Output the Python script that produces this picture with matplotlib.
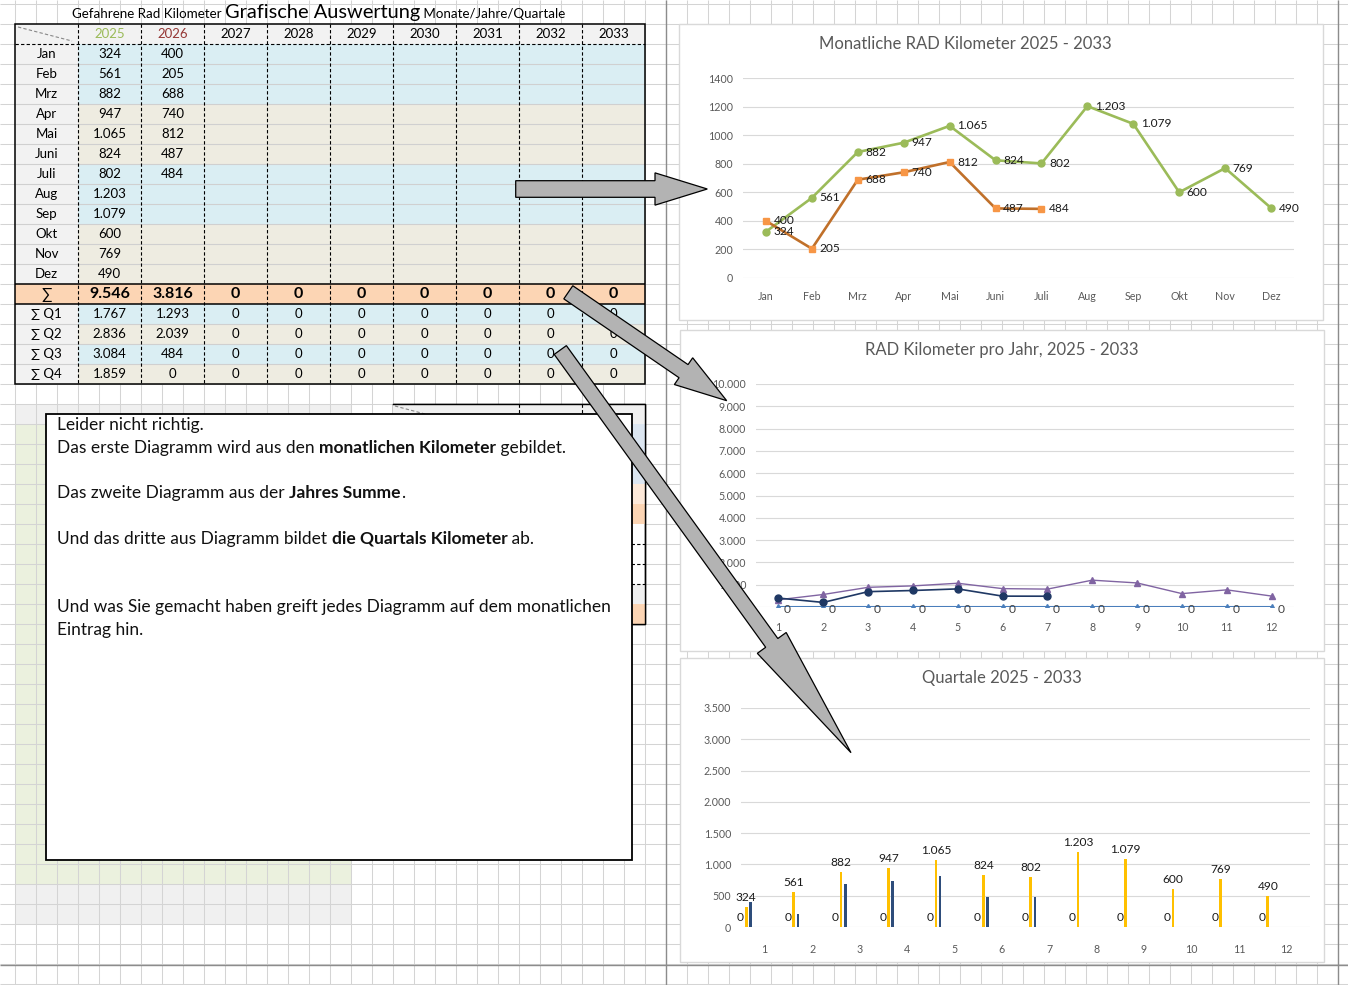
import matplotlib
matplotlib.use("Agg")
import matplotlib.pyplot as plt
import numpy as np
from matplotlib.patches import Rectangle, FancyArrow

plt.rcParams['font.family'] = ['Lato', 'DejaVu Sans']

# ---- data ----
months = ['Jan', 'Feb', 'Mrz', 'Apr', 'Mai', 'Juni', 'Juli', 'Aug', 'Sep', 'Okt', 'Nov', 'Dez']
month_numbers = [1, 2, 3, 4, 5, 6, 7, 8, 9, 10, 11, 12]
years = [2025, 2026, 2027, 2028, 2029, 2030, 2031, 2032, 2033]
km_2025 = [324, 561, 882, 947, 1065, 824, 802, 1203, 1079, 600, 769, 490]
km_2026 = [400, 205, 688, 740, 812, 487, 484]
zero_row = [0, 0, 0, 0, 0, 0, 0, 0, 0, 0, 0, 0]
year_sum = [9546, 3816, 0, 0, 0, 0, 0, 0, 0]
q1_sum = [1767, 1293, 0, 0, 0, 0, 0, 0, 0]
q2_sum = [2836, 2039, 0, 0, 0, 0, 0, 0, 0]
q3_sum = [3084, 484, 0, 0, 0, 0, 0, 0, 0]
q4_sum = [1859, 0, 0, 0, 0, 0, 0, 0, 0]
quarter_names = ['∑ Q1', '∑ Q2', '∑ Q3', '∑ Q4']


def de(v):
    # german thousands separator
    return f"{v:,}".replace(",", ".")


W, H = 1348, 985
fig = plt.figure(figsize=(W / 100, H / 100), dpi=100)
bg = fig.add_axes([0, 0, 1, 1])
bg.set_xlim(0, W)
bg.set_ylim(H, 0)
bg.axis('off')
r = fig.canvas.get_renderer()

# ---- sheet background ----
bg.add_patch(Rectangle((15, 404), 337, 20, fc='#F0F0F0', lw=0, zorder=0.5))
bg.add_patch(Rectangle((15, 424), 337, 460, fc='#EBF1DE', lw=0, zorder=0.5))
bg.add_patch(Rectangle((15, 884), 337, 40, fc='#F0F0F0', lw=0, zorder=0.5))
bg.vlines(np.arange(15, W, 21), 0, H, color='#D4D4D4', lw=0.75, zorder=1)
bg.hlines(np.arange(4.3, H, 20), 0, W, color='#D4D4D4', lw=0.75, zorder=1)
bg.vlines([666, 1338], 0, H, color='#8C8C8C', lw=1, zorder=1.2)
bg.hlines([965], 0, W, color='#8C8C8C', lw=1, zorder=1.2)

# second table hidden behind the note
bg.add_patch(Rectangle((393, 404), 252, 220, fc='white', ec='black', lw=1, zorder=2))
bg.add_patch(Rectangle((393, 404), 252, 20, fc='#F0F0F0', lw=0, zorder=2.1))
for y0, y1, c in [(424, 484, '#DCE6F1'), (484, 504, '#FDE9D9'), (504, 524, '#FCD5B4'),
                  (584, 604, '#F0F0F0'), (604, 624, '#FCD5B4')]:
    bg.add_patch(Rectangle((393, y0), 252, y1 - y0, fc=c, lw=0, zorder=2.1))
bg.hlines([544, 564, 584], 620, 645, color='black', lw=0.8, linestyles=(0, (3, 2)), zorder=2.2)
bg.vlines([519, 582], 404, 424, color='black', lw=0.8, linestyles=(0, (3, 2)), zorder=2.2)
bg.plot([395, 425], [406, 414], color='#888888', lw=0.8, ls=(0, (3, 2)), zorder=2.2)
bg.plot([393, 645, 645, 393], [404, 404, 624, 624], color='black', lw=1, zorder=2.3)

# ---- main table ----
col_edges = [15 + 63 * k for k in range(11)]
row_edges = [24 + 20 * k for k in range(19)]
blue, beige, grey, peach = '#DAEEF3', '#EEECE1', '#F2F2F2', '#FCD5B4'
fs_tab = 9.5


def cell(ci, ri, color):
    x0, x1 = col_edges[ci], col_edges[ci + 1]
    y0, y1 = row_edges[ri], row_edges[ri + 1]
    bg.add_patch(Rectangle((x0, y0), x1 - x0, y1 - y0, fc=color, lw=0, zorder=2))


def ctext(ci, ri, s, **kw):
    x = (col_edges[ci] + col_edges[ci + 1]) / 2
    y = (row_edges[ri] + row_edges[ri + 1]) / 2 + 0.5
    bg.text(x, y, s, ha='center', va='center', zorder=4, **kw)


for ci in range(10):
    cell(ci, 0, grey)
header_colors = ['#9BBB59', '#953735'] + ['black'] * 7
for j, yr in enumerate(years):
    ctext(j + 1, 0, str(yr), fontsize=fs_tab, color=header_colors[j])
bg.plot([18, 72], [27, 41], color='#888888', lw=0.8, ls=(0, (3, 2)), zorder=3)

for i, m in enumerate(months):
    ri = i + 1
    cell(0, ri, grey)
    rowc = blue if (i // 3) % 2 == 0 else beige
    for ci in range(1, 10):
        cell(ci, ri, rowc)
    ctext(0, ri, m, fontsize=fs_tab)
    ctext(1, ri, de(km_2025[i]), fontsize=fs_tab)
    if i < len(km_2026):
        ctext(2, ri, de(km_2026[i]), fontsize=fs_tab)

for ci in range(10):
    cell(ci, 13, peach)
ctext(0, 13, '∑', fontsize=11)
for j, v in enumerate(year_sum):
    ctext(j + 1, 13, de(v), fontsize=11.5, fontweight='bold')

for qi, qvals in enumerate([q1_sum, q2_sum, q3_sum, q4_sum]):
    ri = 14 + qi
    cell(0, ri, grey)
    for ci in range(1, 10):
        cell(ci, ri, blue if qi % 2 == 0 else beige)
    ctext(0, ri, quarter_names[qi], fontsize=fs_tab)
    for j, v in enumerate(qvals):
        ctext(j + 1, ri, de(v), fontsize=fs_tab)

bg.hlines(row_edges[2:13] + row_edges[15:18], 15, 645, color='#D0D0D0', lw=0.8, zorder=2.5)
bg.vlines(col_edges[1:10], 24, 384, color='black', lw=0.8, linestyles=(0, (3, 2)), zorder=3)
bg.hlines([44], 15, 645, color='black', lw=0.8, linestyles=(0, (3, 2)), zorder=3)
bg.hlines([284, 304], 15, 645, color='black', lw=1.1, zorder=3.1)
bg.add_patch(Rectangle((15, 24), 630, 360, fc='none', ec='black', lw=1.1, zorder=3.2))


def width_px(s, **kw):
    t = bg.text(0, 0, '|' + s + '|', **kw)
    w1 = t.get_window_extent(r).width
    t.remove()
    t = bg.text(0, 0, '||', **kw)
    w2 = t.get_window_extent(r).width
    t.remove()
    return w1 - w2


def rich(x, y, pieces, center=False):
    if center:
        x -= sum(width_px(s, **kw) for s, kw in pieces) / 2
    for s, kw in pieces:
        bg.text(x, y, s, ha='left', va='baseline', zorder=5, **kw)
        x += width_px(s, **kw)


rich(319, 18, [('Gefahrene Rad Kilometer ', dict(fontsize=9.6)),
               ('Grafische Auswertung', dict(fontsize=14.4)),
               (' Monate/Jahre/Quartale', dict(fontsize=9.6))], center=True)

# ---- note box ----
bg.add_patch(Rectangle((46, 414), 586, 446, fc='white', ec='black', lw=1.3, zorder=4))
n = dict(fontsize=12.5, color='#111111')
b = dict(fontsize=12.5, color='#111111', fontweight='bold')
rich(57, 430, [('Leider nicht richtig.', n)])
rich(57, 453, [('Das erste Diagramm wird aus den ', n), ('monatlichen Kilometer', b), (' gebildet.', n)])
rich(57, 498, [('Das zweite Diagramm aus der ', n), ('Jahres Summe', b), ('.', n)])
rich(57, 544, [('Und das dritte aus Diagramm bildet ', n), ('die Quartals Kilometer', b), (' ab.', n)])
rich(57, 612, [('Und was Sie gemacht haben greift jedes Diagramm auf dem monatlichen', n)])
rich(57, 635, [('Eintrag hin.', n)])

# ---- chart frames ----
for x0, y0, x1, y1 in [(679, 24, 1323, 320), (680, 330, 1324, 651), (680, 658, 1324, 962)]:
    bg.add_patch(Rectangle((x0, y0), x1 - x0, y1 - y0, fc='white', ec='#D9D9D9', lw=1, zorder=2))


def chart_axes(x0, y0, x1, y1, xpad=9.5):
    ax = fig.add_axes([x0 / W, 1 - y1 / H, (x1 - x0) / W, (y1 - y0) / H])
    ax.patch.set_visible(False)
    for s in ax.spines.values():
        s.set_visible(False)
    ax.tick_params(length=0, labelsize=7.7, labelcolor='#595959')
    ax.tick_params(axis='y', pad=7)
    ax.tick_params(axis='x', pad=xpad)
    ax.yaxis.grid(True, color='#D9D9D9', lw=0.8)
    ax.set_axisbelow(True)
    ax.set_xlim(-0.5, 11.5)
    return ax


def title(x, y, s):
    fig.text(x / W, 1 - y / H, s, ha='center', va='center', fontsize=12, color='#595959')


x = np.arange(len(km_2025))
x26 = np.arange(len(km_2026))
lab = dict(fontsize=8.6, color='#1A1A1A')

# chart 1: monthly
ax1 = chart_axes(743, 78, 1294, 278)
ax1.plot(x, km_2025, color='#9BBB59', lw=1.9, marker='o', ms=5, zorder=3)
ax1.plot(x26, km_2026, color='#C0702A', lw=1.9, marker='s', ms=5,
         mfc='#F79646', mec='#F79646', zorder=3)
for i, v in enumerate(km_2025):
    ax1.annotate(de(v), (i, v), xytext=(5.5, 0), textcoords='offset points', va='center', zorder=4, **lab)
for i, v in enumerate(km_2026):
    ax1.annotate(de(v), (i, v), xytext=(5.5, 0), textcoords='offset points', va='center', zorder=4, **lab)
ax1.set_ylim(0, 1400)
ax1.set_yticks(range(0, 1401, 200))
ax1.set_xticks(x)
ax1.set_xticklabels(months)
title(965, 44, 'Monatliche RAD Kilometer 2025 - 2033')

# chart 2: per year
ax2 = chart_axes(756, 384, 1294, 607, xpad=10.5)
ax2.plot(x, zero_row, color='#4A7EBB', lw=1.5, marker='^', ms=4.5, zorder=3)
ax2.plot(x, km_2025, color='#8064A2', lw=1, marker='^', ms=5, zorder=3)
ax2.plot(x26, km_2026, color='#1F3864', lw=1.2, marker='o', ms=5, zorder=3)
for i, v in enumerate(zero_row):
    ax2.annotate(de(v), (i, v), xytext=(4, -2), textcoords='offset points', va='center',
                 fontsize=8.6, color='#404040', zorder=4)
ax2.set_ylim(0, 10000)
ax2.set_yticks(range(0, 10001, 1000))
ax2.set_yticklabels([de(v) for v in range(0, 10001, 1000)])
ax2.set_xticks(x)
ax2.set_xticklabels([str(m) for m in month_numbers])
title(1002, 350, 'RAD Kilometer pro Jahr, 2025 - 2033')

# chart 3: quarters
ax3 = chart_axes(741, 708, 1310, 927, xpad=12)
ax3.bar(x - 0.51, zero_row, width=0.05, color='#4472C4')
ax3.bar(x - 0.39, km_2025, width=0.055, color='#FFC000', zorder=3)
ax3.bar(x26 - 0.30, km_2026, width=0.055, color='#2E4D7B', zorder=3)
for i, v in enumerate(zero_row):
    ax3.annotate(de(v), (i - 0.51, v), xytext=(0, 3), textcoords='offset points',
                 ha='center', va='bottom', zorder=4, **lab)
for i, v in enumerate(km_2025):
    ax3.annotate(de(v), (i - 0.39, v), xytext=(0, 3), textcoords='offset points',
                 ha='center', va='bottom', zorder=4, **lab)
ax3.set_ylim(0, 3500)
ax3.set_yticks(range(0, 3501, 500))
ax3.set_yticklabels([de(v) for v in range(0, 3501, 500)])
ax3.set_xticks(x)
ax3.set_xticklabels([str(m) for m in month_numbers])
title(1002, 678, 'Quartale 2025 - 2033')

# ---- arrows on top of everything ----
top = fig.add_axes([0, 0, 1, 1])
top.set_xlim(0, W)
top.set_ylim(H, 0)
top.axis('off')
top.patch.set_visible(False)
for (tx, ty), (hx, hy), w, hw, hl in [((515.7, 189), (707.3, 189), 16.6, 32.3, 52.3),
                                      ((568.3, 292.3), (726.7, 400.7), 15.9, 32.4, 52.3),
                                      ((560.3, 350), (851, 752.7), 15, 35.6, 135.4)]:
    top.add_patch(FancyArrow(tx, ty, hx - tx, hy - ty, width=w, head_width=hw, head_length=hl,
                             length_includes_head=True, fc='#B3B3B3', ec='black', lw=0.9))

fig.savefig('out.png', dpi=100)
